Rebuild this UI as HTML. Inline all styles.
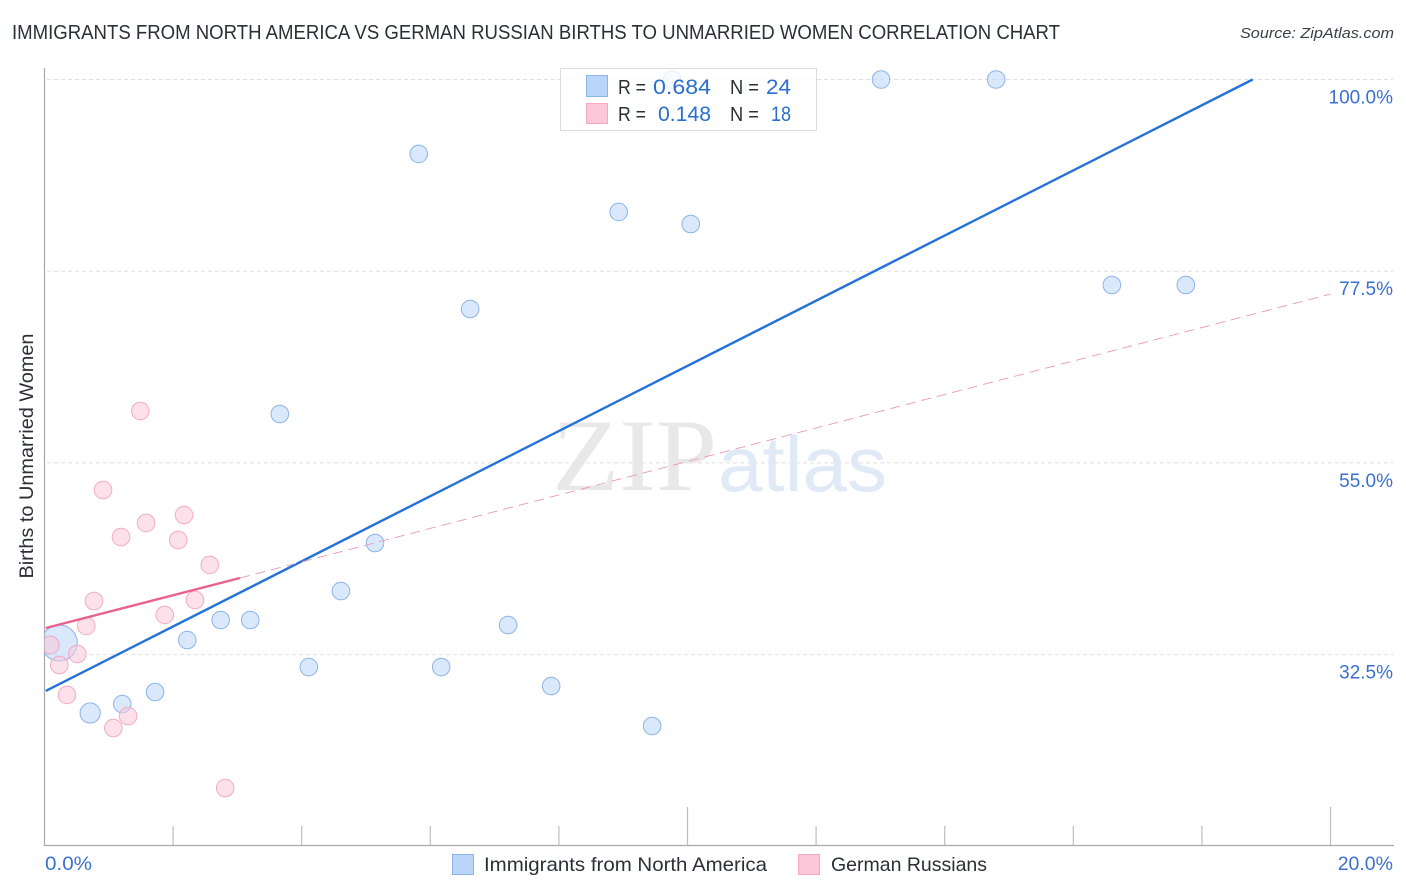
<!DOCTYPE html>
<html lang="en">
<head>
<meta charset="utf-8">
<title>Immigrants from North America vs German Russian Births to Unmarried Women Correlation Chart</title>
<style>
html,body{margin:0;padding:0;background:#fff;width:1406px;height:892px;overflow:hidden}
svg{display:block;font-family:"Liberation Sans",sans-serif}
</style>
</head>
<body>
<svg id="chart" width="1406" height="892" viewBox="0 0 1406 892" xmlns="http://www.w3.org/2000/svg">
  <defs><clipPath id="plot-clip"><rect x="44.5" y="60" width="1350" height="786"/></clipPath></defs>
  <text x="12" y="39" font-size="20" fill="#2b2f36" textLength="1048" lengthAdjust="spacingAndGlyphs">IMMIGRANTS FROM NORTH AMERICA VS GERMAN RUSSIAN BIRTHS TO UNMARRIED WOMEN CORRELATION CHART</text>
  <text x="1394" y="38" font-size="15" font-style="italic" fill="#3a3f47" text-anchor="end" textLength="154" lengthAdjust="spacingAndGlyphs">Source: ZipAtlas.com</text>

  <g id="grid"></g>

  <g>
    <text x="552" y="490" font-family="'Liberation Serif',serif" font-size="103" fill="#e8e8e8" textLength="165" lengthAdjust="spacingAndGlyphs">ZIP</text>
    <text x="718" y="491" font-size="78" fill="#e0eaf7" textLength="169" lengthAdjust="spacingAndGlyphs">atlas</text>
  </g>

  <g id="axes"></g>
  <g id="points" clip-path="url(#plot-clip)"></g>
  <g id="trends"></g>
  <g id="ylabels"></g>
  <g id="xlabels"></g>

  <text transform="translate(33,456) rotate(-90)" font-size="19" fill="#2b2f36" text-anchor="middle" textLength="245" lengthAdjust="spacingAndGlyphs">Births to Unmarried Women</text>

  <g>
    <rect x="560.5" y="68.5" width="256" height="62" fill="#fff" fill-opacity="0.78" stroke="#dcdcdc"/>
    <rect x="586.5" y="75.5" width="21" height="21" fill="#b9d5f8" stroke="#8db4e8"/>
    <rect x="586.5" y="103.5" width="21" height="20" fill="#fcc8d9" stroke="#f4a9c0"/>
    <text x="618" y="94" font-size="20" fill="#2b2f36" textLength="28" lengthAdjust="spacingAndGlyphs">R =</text>
    <text x="653" y="94" font-size="21.5" fill="#2a6fd0" textLength="58" lengthAdjust="spacingAndGlyphs">0.684</text>
    <text x="730" y="94" font-size="20" fill="#2b2f36" textLength="29" lengthAdjust="spacingAndGlyphs">N =</text>
    <text x="766" y="94" font-size="21.5" fill="#2a6fd0" textLength="25" lengthAdjust="spacingAndGlyphs">24</text>
    <text x="618" y="121" font-size="20" fill="#2b2f36" textLength="28" lengthAdjust="spacingAndGlyphs">R =</text>
    <text x="658" y="121" font-size="21.5" fill="#2a6fd0" textLength="53" lengthAdjust="spacingAndGlyphs">0.148</text>
    <text x="730" y="121" font-size="20" fill="#2b2f36" textLength="29" lengthAdjust="spacingAndGlyphs">N =</text>
    <text x="771" y="121" font-size="21.5" fill="#2a6fd0" textLength="20" lengthAdjust="spacingAndGlyphs">18</text>
  </g>

  <g>
    <g>
      <rect x="452.5" y="854.5" width="21" height="20" fill="#b9d5f8" stroke="#8db4e8"/>
      <text x="484" y="871" font-size="19.5" fill="#2b2f36" textLength="283" lengthAdjust="spacingAndGlyphs">Immigrants from North America</text>
    </g>
    <g>
      <rect x="798.5" y="854.5" width="21" height="20" fill="#fcc8d9" stroke="#f4a9c0"/>
      <text x="831" y="871" font-size="19.5" fill="#2b2f36" textLength="156" lengthAdjust="spacingAndGlyphs">German Russians</text>
    </g>
  </g>
</svg>
<script>
const blueX = [9.76,13.01,14.80,5.82,8.93,10.05,16.60,17.75,6.62,3.66,5.14,4.61,2.74,3.20,7.21,2.22,4.11,6.17,1.72,7.88,1.21,0.71,9.45,0.23];
const blueY = [100,100,100,91.26,84.45,83.04,75.88,75.88,73.06,60.74,45.60,39.96,36.56,36.56,35.97,34.21,31.04,31.04,28.11,28.81,26.70,25.65,24.12,33.86];
const blueWeight = [1,1,1,1,1,1,1,1,1,1,1,1,1,1,1,1,1,1,1,1,1,1.15,1,2.05];
const pinkX = [1.49,0.91,2.17,1.58,1.19,2.08,2.57,0.77,2.34,1.87,0.65,0.51,0.09,0.23,0.35,1.30,1.07,2.81];
const pinkY = [61.09,51.82,48.88,47.95,46.30,45.95,43.02,38.79,38.91,37.15,35.86,32.57,33.63,31.28,27.76,25.29,23.88,16.84];
const blueTrendX = [0.02,18.79];
const blueTrendY = [28.23,100];
const pinkTrendX = [0.02,3.04];
const pinkTrendY = [35.62,41.49];
const pinkDashX = [3.04,20];
const pinkDashY = [41.49,74.82];
const yTicks = [100,77.5,55,32.5];
const yTickLabels = ['100.0%','77.5%','55.0%','32.5%'];
const xTicks = [0,2,4,6,8,10,12,14,16,18,20];
const xMajorTicks = [10,20];
const xTickLabels = ['0.0%','20.0%'];

const X = v => 44.5 + v * 64.3;
const Y = v => 79.5 + (100 - v) * 8.52;
const NS = 'http://www.w3.org/2000/svg';
function mk(parent, tag, attrs, txt) {
  const el = document.createElementNS(NS, tag);
  for (const k in attrs) el.setAttribute(k, attrs[k]);
  if (txt !== undefined) el.textContent = txt;
  document.getElementById(parent).appendChild(el);
  return el;
}

yTicks.forEach((t, i) => {
  const g = mk('grid', 'line', {x1: 47, x2: 1393, y1: Y(t), y2: Y(t), stroke: '#e0e0e0', 'stroke-width': 1, 'stroke-dasharray': '4 3'});
  
  
  const l = mk('ylabels', 'text', {x: 1393, y: Y(t) + 24, 'font-size': 19, fill: '#3a70d0', 'text-anchor': 'end'}, yTickLabels[i]);
  
  
});

const yAxis = mk('axes', 'line', {x1: 44.5, x2: 44.5, y1: 68, y2: 846, stroke: '#a8a8a8', 'stroke-width': 1.2});


const xAxis = mk('axes', 'line', {x1: 44, x2: 1394, y1: 845.5, y2: 845.5, stroke: '#a8a8a8', 'stroke-width': 1.2});


xTicks.forEach(t => {
  if (t === 0) return;
  const top = xMajorTicks.includes(t) ? 807 : 826;
  const m = mk('axes', 'line', {x1: X(t), x2: X(t), y1: top, y2: 845, stroke: '#bdbdbd', 'stroke-width': 1.2});
  
  
});

const lbl0 = mk('xlabels', 'text', {x: 45, y: 870, 'font-size': 19.5, fill: '#3a70d0', textLength: 47, lengthAdjust: 'spacingAndGlyphs'}, xTickLabels[0]);


const lbl1 = mk('xlabels', 'text', {x: 1393, y: 870, 'font-size': 19.5, fill: '#3a70d0', 'text-anchor': 'end'}, xTickLabels[1]);



blueX.forEach((v, i) => {
  const c = mk('points', 'circle', {cx: X(v), cy: Y(blueY[i]), r: 8.8 * blueWeight[i], fill: '#b9d5f8', 'fill-opacity': 0.55, stroke: '#6f9fe0', 'stroke-opacity': 0.75, 'stroke-width': 1});
  
  
});
pinkX.forEach((v, i) => {
  const c = mk('points', 'circle', {cx: X(v), cy: Y(pinkY[i]), r: 8.8, fill: '#fcc8d9', 'fill-opacity': 0.55, stroke: '#f0a0bc', 'stroke-opacity': 0.85, 'stroke-width': 1});
  
  
});

const tb = mk('trends', 'line', {x1: X(blueTrendX[0]), y1: Y(blueTrendY[0]), x2: X(blueTrendX[1]), y2: Y(blueTrendY[1]), stroke: '#2472d8', 'stroke-width': 2.4});


const td = mk('trends', 'line', {x1: X(pinkDashX[0]), y1: Y(pinkDashY[0]), x2: X(pinkDashX[1]), y2: Y(pinkDashY[1]), stroke: '#e79ab5', 'stroke-width': 0.9, 'stroke-dasharray': '10 6'});


const tp = mk('trends', 'line', {x1: X(pinkTrendX[0]), y1: Y(pinkTrendY[0]), x2: X(pinkTrendX[1]), y2: Y(pinkTrendY[1]), stroke: '#e8628f', 'stroke-width': 2.4});


</script>
</body>
</html>
